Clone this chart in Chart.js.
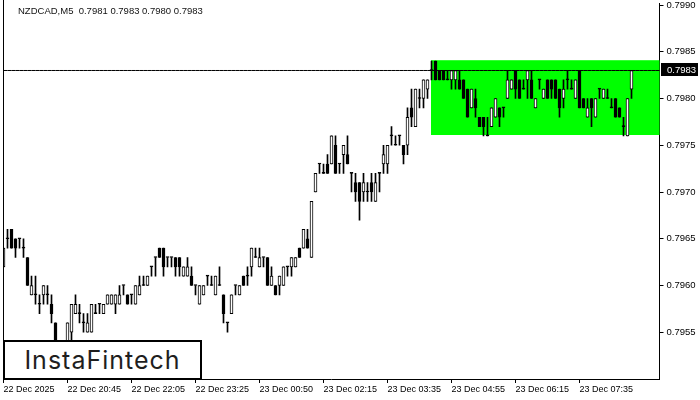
<!DOCTYPE html>
<html>
<head>
<meta charset="utf-8">
<script src="https://cdn.jsdelivr.net/npm/chart.js@4.4.1/dist/chart.umd.min.js"></script>
<style>
  body { margin: 0; background: #fff; }
  #wrap { position: relative; width: 700px; height: 400px; }
  #chart { display: block; }
  #header { position: absolute; left: 18px; top: 5px; font: 9.5px "Liberation Sans", sans-serif; color: #111; white-space: pre; }
  #logo { position: absolute; left: 3px; top: 340px; width: 199px; height: 40px; box-sizing: border-box;
          border: 2px solid #000; background: #fff; color: #1e1e1e; font: 400 25px Inter, sans-serif;
          letter-spacing: 1px; display: flex; align-items: center; justify-content: center; }
</style>
</head>
<body>
<div id="wrap">
  <canvas id="chart" width="700" height="400"></canvas>
  <div id="header"></div>
  <div id="logo">InstaFintech</div>
</div>
<script>
// NZDCAD M5 candles
const opens = [
  0.7962, 0.7965, 0.7966, 0.7965, 0.7965, 0.7964, 0.7963, 0.7959, 0.7959, 0.7958, 0.7959, 0.7959, 0.7958, 0.7956, 0.7953, 0.7953,
  0.7954, 0.7955, 0.7957, 0.7957, 0.7956, 0.7955, 0.7955, 0.7957, 0.7958, 0.7957, 0.7958, 0.7958, 0.7958, 0.7958, 0.7960, 0.7959,
  0.7959, 0.7958, 0.7959, 0.7960, 0.7960, 0.7962, 0.7963, 0.7964, 0.7964, 0.7963, 0.7963, 0.7963, 0.7963, 0.7961, 0.7961, 0.7961,
  0.7960, 0.7958, 0.7959, 0.7961, 0.7960, 0.7959, 0.7960, 0.7959, 0.7956, 0.7957, 0.7960, 0.7959, 0.7961, 0.7961, 0.7962, 0.7963,
  0.7962, 0.7963, 0.7963, 0.7960, 0.7960, 0.7960, 0.7960, 0.7962, 0.7962, 0.7962, 0.7964, 0.7964, 0.7965, 0.7963, 0.7970, 0.7973,
  0.7972, 0.7973, 0.7973, 0.7975, 0.7973, 0.7974, 0.7974, 0.7972, 0.7971, 0.7971, 0.7970, 0.7970, 0.7971, 0.7969, 0.7972, 0.7973,
  0.7973, 0.7976, 0.7975, 0.7976, 0.7975, 0.7975, 0.7979, 0.7977, 0.7980, 0.7980, 0.7981, 0.7983, 0.7984, 0.7983, 0.7983, 0.7982,
  0.7982, 0.7982, 0.7982, 0.7982, 0.7981, 0.7979, 0.7980, 0.7978, 0.7978, 0.7976, 0.7977, 0.7978, 0.7979, 0.7979, 0.7980, 0.7981,
  0.7983, 0.7982, 0.7981, 0.7982, 0.7982, 0.7979, 0.7982, 0.7980, 0.7982, 0.7982, 0.7982, 0.7981, 0.7980, 0.7982, 0.7981, 0.7980,
  0.7983, 0.7980, 0.7978, 0.7980, 0.7978, 0.7981, 0.7980, 0.7980, 0.7979, 0.7980, 0.7979, 0.7977, 0.7976, 0.7981
];
const highs = [
  0.7964, 0.7966, 0.7966, 0.7965, 0.7965, 0.7965, 0.7963, 0.7961, 0.7961, 0.7959, 0.7960, 0.7960, 0.7959, 0.7956, 0.7954, 0.7954,
  0.7956, 0.7958, 0.7959, 0.7958, 0.7957, 0.7957, 0.7958, 0.7958, 0.7958, 0.7958, 0.7959, 0.7959, 0.7959, 0.7960, 0.7960, 0.7959,
  0.7959, 0.7960, 0.7961, 0.7961, 0.7961, 0.7962, 0.7963, 0.7964, 0.7964, 0.7963, 0.7963, 0.7963, 0.7963, 0.7962, 0.7963, 0.7962,
  0.7960, 0.7960, 0.7960, 0.7961, 0.7961, 0.7961, 0.7962, 0.7959, 0.7956, 0.7959, 0.7960, 0.7960, 0.7961, 0.7962, 0.7964, 0.7964,
  0.7964, 0.7963, 0.7963, 0.7962, 0.7960, 0.7961, 0.7962, 0.7962, 0.7963, 0.7963, 0.7964, 0.7966, 0.7966, 0.7969, 0.7972, 0.7973,
  0.7973, 0.7974, 0.7976, 0.7976, 0.7973, 0.7975, 0.7976, 0.7972, 0.7972, 0.7971, 0.7972, 0.7971, 0.7972, 0.7972, 0.7972, 0.7975,
  0.7975, 0.7977, 0.7976, 0.7976, 0.7975, 0.7979, 0.7981, 0.7981, 0.7981, 0.7982, 0.7982, 0.7984, 0.7984, 0.7983, 0.7983, 0.7983,
  0.7983, 0.7983, 0.7983, 0.7982, 0.7981, 0.7981, 0.7981, 0.7978, 0.7978, 0.7978, 0.7979, 0.7980, 0.7979, 0.7979, 0.7983, 0.7982,
  0.7983, 0.7982, 0.7982, 0.7983, 0.7983, 0.7980, 0.7982, 0.7981, 0.7982, 0.7982, 0.7982, 0.7981, 0.7982, 0.7983, 0.7982, 0.7982,
  0.7983, 0.7980, 0.7980, 0.7980, 0.7980, 0.7981, 0.7981, 0.7981, 0.7980, 0.7980, 0.7979, 0.7978, 0.7980, 0.7983
];
const lows = [
  0.7962, 0.7964, 0.7964, 0.7963, 0.7964, 0.7963, 0.7960, 0.7959, 0.7958, 0.7957, 0.7958, 0.7958, 0.7956, 0.7953, 0.7952, 0.7952,
  0.7953, 0.7954, 0.7957, 0.7956, 0.7955, 0.7955, 0.7955, 0.7957, 0.7957, 0.7957, 0.7958, 0.7958, 0.7957, 0.7958, 0.7959, 0.7958,
  0.7958, 0.7958, 0.7959, 0.7960, 0.7960, 0.7961, 0.7961, 0.7963, 0.7961, 0.7962, 0.7962, 0.7961, 0.7961, 0.7961, 0.7961, 0.7960,
  0.7959, 0.7958, 0.7959, 0.7960, 0.7960, 0.7959, 0.7960, 0.7956, 0.7955, 0.7957, 0.7959, 0.7959, 0.7960, 0.7960, 0.7961, 0.7963,
  0.7962, 0.7962, 0.7960, 0.7960, 0.7959, 0.7959, 0.7960, 0.7961, 0.7961, 0.7962, 0.7963, 0.7964, 0.7964, 0.7963, 0.7970, 0.7972,
  0.7972, 0.7972, 0.7973, 0.7972, 0.7972, 0.7972, 0.7973, 0.7970, 0.7969, 0.7967, 0.7969, 0.7969, 0.7969, 0.7969, 0.7970, 0.7972,
  0.7972, 0.7975, 0.7975, 0.7975, 0.7973, 0.7974, 0.7977, 0.7977, 0.7979, 0.7979, 0.7980, 0.7982, 0.7982, 0.7982, 0.7982, 0.7982,
  0.7981, 0.7981, 0.7981, 0.7980, 0.7978, 0.7979, 0.7978, 0.7977, 0.7976, 0.7976, 0.7977, 0.7978, 0.7977, 0.7978, 0.7980, 0.7981,
  0.7980, 0.7980, 0.7981, 0.7980, 0.7980, 0.7979, 0.7981, 0.7980, 0.7980, 0.7980, 0.7980, 0.7978, 0.7979, 0.7981, 0.7981, 0.7980,
  0.7979, 0.7979, 0.7978, 0.7977, 0.7978, 0.7980, 0.7980, 0.7980, 0.7979, 0.7978, 0.7978, 0.7976, 0.7976, 0.7980
];
const closes = [
  0.7964, 0.7965, 0.7964, 0.7964, 0.7965, 0.7964, 0.7960, 0.7960, 0.7959, 0.7958, 0.7960, 0.7959, 0.7957, 0.7953, 0.7953, 0.7954,
  0.7956, 0.7958, 0.7958, 0.7957, 0.7956, 0.7956, 0.7958, 0.7957, 0.7958, 0.7958, 0.7959, 0.7959, 0.7959, 0.7959, 0.7960, 0.7958,
  0.7959, 0.7960, 0.7960, 0.7960, 0.7961, 0.7962, 0.7963, 0.7963, 0.7962, 0.7963, 0.7963, 0.7962, 0.7962, 0.7962, 0.7962, 0.7960,
  0.7960, 0.7960, 0.7960, 0.7961, 0.7960, 0.7961, 0.7960, 0.7957, 0.7956, 0.7959, 0.7960, 0.7960, 0.7960, 0.7961, 0.7964, 0.7963,
  0.7963, 0.7963, 0.7960, 0.7961, 0.7959, 0.7961, 0.7962, 0.7962, 0.7963, 0.7963, 0.7963, 0.7966, 0.7964, 0.7969, 0.7972, 0.7973,
  0.7972, 0.7972, 0.7976, 0.7972, 0.7973, 0.7975, 0.7973, 0.7972, 0.7970, 0.7969, 0.7971, 0.7970, 0.7970, 0.7971, 0.7972, 0.7974,
  0.7975, 0.7976, 0.7975, 0.7976, 0.7974, 0.7978, 0.7978, 0.7981, 0.7980, 0.7982, 0.7982, 0.7983, 0.7982, 0.7982, 0.7982, 0.7982,
  0.7983, 0.7983, 0.7981, 0.7980, 0.7978, 0.7981, 0.7979, 0.7977, 0.7977, 0.7976, 0.7979, 0.7980, 0.7978, 0.7979, 0.7982, 0.7982,
  0.7981, 0.7980, 0.7981, 0.7983, 0.7980, 0.7980, 0.7982, 0.7981, 0.7980, 0.7981, 0.7980, 0.7979, 0.7981, 0.7982, 0.7981, 0.7982,
  0.7979, 0.7979, 0.7979, 0.7979, 0.7980, 0.7981, 0.7981, 0.7980, 0.7979, 0.7978, 0.7978, 0.7977, 0.7980, 0.7983
];

// time axis labels and the bars they sit on
const tickBars = [0, 16, 32, 48, 64, 80, 96, 112, 128, 144];
const tickLabels = ['22 Dec 2025', '22 Dec 20:45', '22 Dec 22:05', '22 Dec 23:25', '23 Dec 00:50',
                    '23 Dec 02:15', '23 Dec 03:35', '23 Dec 04:55', '23 Dec 06:15', '23 Dec 07:35'];
const yTicks = [0.7955, 0.7960, 0.7965, 0.7970, 0.7975, 0.7980, 0.7985, 0.7990];

// rectangle pattern (green zone)
const zoneStart = 107;
const zoneHigh = 0.79841;
const zoneLow = 0.79761;

const n = opens.length;
const categories = Array.from({ length: n + 7 }, (_, i) => i);
const wicks = categories.map(i => i < n ? [lows[i], highs[i]] : null);
const bodies = categories.map(i => i < n ? [opens[i], closes[i]] : null);
const bodyFill = categories.map(i => i < n && closes[i] > opens[i] ? '#ffffff' : '#000000');
const lastClose = closes[n - 1];

document.getElementById('header').textContent = 'NZDCAD,M5  ' +
  [opens[n - 1], highs[n - 1], lows[n - 1], closes[n - 1]].map(v => v.toFixed(4)).join(' ');

const noPad = s => { s.paddingTop = 0; s.paddingBottom = 0; s.paddingLeft = 0; s.paddingRight = 0; };

const extras = {
  id: 'extras',
  beforeDatasetsDraw(chart) {
    const { ctx, chartArea, scales: { x, y } } = chart;
    const x0 = Math.floor(x.getPixelForValue(zoneStart));
    const y0 = y.getPixelForValue(zoneHigh);
    const y1 = y.getPixelForValue(zoneLow);
    ctx.save();
    ctx.fillStyle = '#00ff00';
    ctx.fillRect(x0, y0, chartArea.right - x0, y1 - y0);
    ctx.restore();
  },
  afterDraw(chart) {
    const { ctx, chartArea, scales: { y } } = chart;
    ctx.save();
    // left frame line
    ctx.strokeStyle = '#000';
    ctx.lineWidth = 1;
    ctx.beginPath();
    const lx = Math.floor(chartArea.left) + 0.5;
    ctx.moveTo(lx, 0);
    ctx.lineTo(lx, chartArea.bottom);
    ctx.stroke();
    // last price tag
    const py = y.getPixelForValue(lastClose);
    ctx.fillStyle = '#000';
    ctx.fillRect(661, Math.round(py) - 7, 37, 13);
    ctx.fillStyle = '#fff';
    ctx.font = '9.5px "Liberation Sans"';
    ctx.textBaseline = 'middle';
    ctx.fillText(lastClose.toFixed(4), 667, Math.round(py));
    ctx.restore();
  }
};

new Chart(document.getElementById('chart').getContext('2d'), {
  type: 'bar',
  data: {
    labels: categories,
    datasets: [
      { type: 'line', data: categories.map(() => lastClose), borderColor: '#000', borderWidth: 1,
        pointRadius: 0, order: 1 },
      { data: bodies, backgroundColor: bodyFill, borderColor: '#000', borderWidth: 1, borderSkipped: false,
        barThickness: 3, minBarLength: 1, grouped: false, order: 2 },
      { data: wicks, backgroundColor: '#000', barThickness: 1, grouped: false, order: 3 }
    ]
  },
  options: {
    responsive: false,
    animation: false,
    events: [],
    layout: { padding: { left: 3.5, top: 3, right: 0, bottom: 0 } },
    plugins: { legend: { display: false }, tooltip: { enabled: false } },
    scales: {
      x: {
        type: 'category',
        offset: false,
        grid: { offset: false, drawOnChartArea: false, tickLength: 4, color: '#000' },
        border: { color: '#000' },
        afterBuildTicks: s => { s.ticks = tickBars.map(v => ({ value: v })); },
        afterFit: s => { s.height = 21; noPad(s); },
        ticks: {
          autoSkip: false, maxRotation: 0, align: 'start', padding: 1, color: '#000',
          font: { family: 'Liberation Sans', size: 9 },
          callback: (v, i) => tickLabels[i]
        }
      },
      y: {
        position: 'right',
        min: 0.7950,
        max: 0.799022,
        grid: { drawOnChartArea: false, tickLength: 4, color: '#000' },
        border: { color: '#000' },
        afterBuildTicks: s => { s.ticks = yTicks.map(v => ({ value: v })); },
        afterFit: s => { s.width = 40.5; noPad(s); },
        ticks: {
          padding: 3, color: '#000',
          font: { family: 'Liberation Sans', size: 9.5 },
          callback: v => v.toFixed(4)
        }
      }
    }
  },
  plugins: [extras]
});
</script>
</body>
</html>
